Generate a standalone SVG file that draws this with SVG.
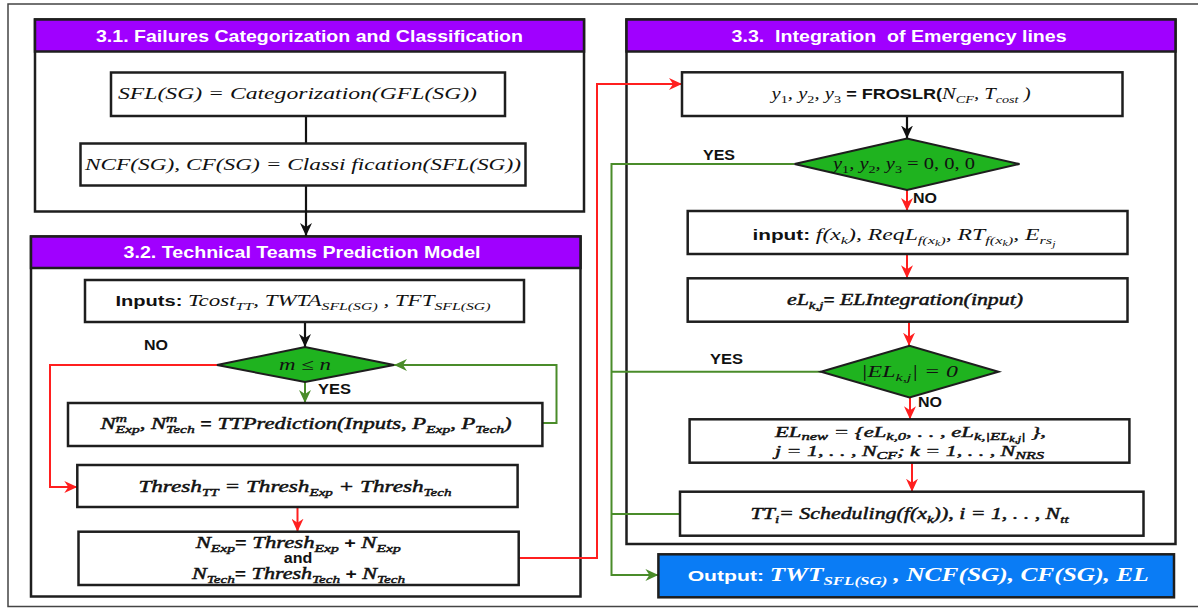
<svg xmlns="http://www.w3.org/2000/svg" width="1198" height="610" viewBox="0 0 1198 610">
<defs>
<style>
.sec{fill:#fff;stroke:#1e1e1e;stroke-width:2.5}
.hdr{fill:#a000ff;stroke:#1e1e1e;stroke-width:2.5}
.ht{font-family:"Liberation Sans",Arial,sans-serif;font-weight:bold;font-size:16.5px;fill:#fff}
.box{fill:#fff;stroke:#1e1e1e;stroke-width:2.5}
.dia{fill:#1fb31f;stroke:#1e1e1e;stroke-width:2}
.out{fill:#0a7cf5;stroke:#1e1e1e;stroke-width:2.5}
.m{font-family:"Liberation Serif","Times New Roman",serif;font-style:italic;font-size:16px;fill:#111}
.mb{stroke:#111;stroke-width:0.45}
.ob{font-weight:bold}
.r{font-style:normal}
.s{font-family:"Liberation Sans",Arial,sans-serif;font-style:normal;font-weight:bold;font-size:14px;stroke:none}
.lbl{font-family:"Liberation Sans",Arial,sans-serif;font-weight:bold;font-size:14px;fill:#111}
.sb{font-size:11px}
.ss{font-size:8px}
.ck{fill:none;stroke:#111;stroke-width:2.2}
.cr{fill:none;stroke:#ff1f1f;stroke-width:2}
.cg{fill:none;stroke:#4a8c2a;stroke-width:2}
</style>
<marker id="ak" markerUnits="userSpaceOnUse" markerWidth="14" markerHeight="12" refX="13" refY="6" orient="auto"><path d="M0,0 L13,6 L0,12 L4,6 z" fill="#111"/></marker>
<marker id="ar" markerUnits="userSpaceOnUse" markerWidth="14" markerHeight="12" refX="13" refY="6" orient="auto"><path d="M0,0 L13,6 L0,12 L4,6 z" fill="#ff1f1f"/></marker>
<marker id="ag" markerUnits="userSpaceOnUse" markerWidth="14" markerHeight="12" refX="13" refY="6" orient="auto"><path d="M0,0 L13,6 L0,12 L4,6 z" fill="#4a8c2a"/></marker>
</defs>
<rect x="0" y="0" width="1198" height="610" fill="#fff"/>
<rect x="8" y="4" width="1200" height="602.5" fill="none" stroke="#444" stroke-width="1.5"/>

<g id="sec31">
<rect class="sec" x="35" y="19.5" width="549" height="192"/>
<rect class="hdr" x="35" y="19.5" width="549" height="32"/>
<text class="ht" x="96" y="41.5" textLength="427" lengthAdjust="spacingAndGlyphs">3.1. Failures Categorization and Classification</text>
</g>
<g id="sec32">
<rect class="sec" x="31" y="236.5" width="549.5" height="360"/>
<rect class="hdr" x="31" y="236.5" width="549.5" height="31.5"/>
<text class="ht" x="123.6" y="258" textLength="357" lengthAdjust="spacingAndGlyphs">3.2. Technical Teams Prediction Model</text>
</g>
<g id="sec33">
<rect class="sec" x="626.5" y="19.5" width="549" height="524.5"/>
<rect class="hdr" x="626.5" y="19.5" width="549" height="32"/>
<text class="ht" x="731.6" y="41.5" textLength="335" lengthAdjust="spacingAndGlyphs" xml:space="preserve">3.3.  Integration  of Emergency lines</text>
</g>

<g id="connectors">
<path class="ck" d="M306,116 V143"/>
<path class="ck" d="M306,186 V236" marker-end="url(#ak)"/>
<path class="ck" d="M305,322 V347" marker-end="url(#ak)"/>
<path class="ck" d="M907,116 V138.5" marker-end="url(#ak)"/>
<path class="cr" d="M217,365 H50 V487 H77.3" marker-end="url(#ar)"/>
<path class="cr" d="M297.5,507 V531.7" marker-end="url(#ar)"/>
<path class="cr" d="M519,558 H597 V84 H682" marker-end="url(#ar)"/>
<path class="cr" d="M907,190 V211" marker-end="url(#ar)"/>
<path class="cr" d="M907,254 V278.3" marker-end="url(#ar)"/>
<path class="cr" d="M909,322 V345.7" marker-end="url(#ar)"/>
<path class="cr" d="M910,397.5 V419.3" marker-end="url(#ar)"/>
<path class="cr" d="M912,463 V491.7" marker-end="url(#ar)"/>
<path class="cg" d="M305,382 V403" marker-end="url(#ag)"/>
<path class="cg" d="M542.4,423 H556.5 V365 H394" marker-end="url(#ag)"/>
<path class="cg" d="M794.5,164 H611.5 V575 H658.4" marker-end="url(#ag)"/>
<path class="cg" d="M821,371.7 H611.5"/>
<path class="cg" d="M680,514 H611.5"/>
</g>

<g id="labels">
<text class="lbl" x="144" y="350" textLength="24" lengthAdjust="spacingAndGlyphs">NO</text>
<text class="lbl" x="318" y="394" textLength="33" lengthAdjust="spacingAndGlyphs">YES</text>
<text class="lbl" x="703" y="160" textLength="32" lengthAdjust="spacingAndGlyphs">YES</text>
<text class="lbl" x="913" y="203" textLength="24" lengthAdjust="spacingAndGlyphs">NO</text>
<text class="lbl" x="710" y="364" textLength="33" lengthAdjust="spacingAndGlyphs">YES</text>
<text class="lbl" x="918" y="407" textLength="24" lengthAdjust="spacingAndGlyphs">NO</text>
</g>

<g id="n-sfl">
<rect class="box" x="111" y="72.5" width="394" height="43.5"/>
<text class="m" x="118" y="99" textLength="359" lengthAdjust="spacingAndGlyphs">SFL(SG) = Categorization(GFL(SG))</text>
</g>
<g id="n-ncf">
<rect class="box" x="80.5" y="143.5" width="445" height="42"/>
<text class="m" x="85" y="170" textLength="436" lengthAdjust="spacingAndGlyphs">NCF(SG), CF(SG) = Classi<tspan dx="4">fication(SFL(SG))</tspan></text>
</g>
<g id="n-inputs">
<rect class="box" x="85" y="280" width="439" height="42"/>
<text class="m" x="115.5" y="306" textLength="375" lengthAdjust="spacingAndGlyphs"><tspan class="s">Inputs: </tspan>Tcost<tspan class="sb" dy="4">TT</tspan><tspan dy="-4">, TWTA</tspan><tspan class="sb" dy="4">SFL(SG)</tspan><tspan dy="-4"> , TFT</tspan><tspan class="sb" dy="4">SFL(SG)</tspan></text>
</g>
<g id="n-dec1">
<polygon class="dia" points="217,365 305,347 394,365 305,382"/>
<text class="m" x="279" y="370" textLength="52" lengthAdjust="spacingAndGlyphs">m ≤ n</text>
</g>
<g id="n-ttpred">
<rect class="box" x="68" y="403" width="474.4" height="43"/>
<text class="m mb" x="100.6" y="429" textLength="411" lengthAdjust="spacingAndGlyphs">N<tspan class="sb" dy="-7">m</tspan><tspan class="sb" dx="-8" dy="11">Exp</tspan><tspan dy="-4">, N</tspan><tspan class="sb" dy="-7">m</tspan><tspan class="sb" dx="-8" dy="11">Tech</tspan><tspan dy="-4"> </tspan><tspan class="s">=</tspan> TTPrediction(Inputs, P<tspan class="sb" dy="4">Exp</tspan><tspan dy="-4">, P</tspan><tspan class="sb" dy="4">Tech</tspan><tspan dy="-4">)</tspan></text>
</g>
<g id="n-thresh">
<rect class="box" x="77.3" y="465" width="440.3" height="42"/>
<text class="m mb" x="138.4" y="492" textLength="313" lengthAdjust="spacingAndGlyphs" style="font-size:17px">Thresh<tspan class="sb" dy="4">TT</tspan><tspan dy="-4"> = Thresh</tspan><tspan class="sb" dy="4">Exp</tspan><tspan dy="-4"> + Thresh</tspan><tspan class="sb" dy="4">Tech</tspan></text>
</g>
<g id="n-update">
<rect class="box" x="78.5" y="531.7" width="440.2" height="53.3"/>
<text class="m mb" x="195.7" y="548" textLength="205" lengthAdjust="spacingAndGlyphs">N<tspan class="sb" dy="4">Exp</tspan><tspan class="s" dy="-4">=</tspan> Thresh<tspan class="sb" dy="4">Exp</tspan><tspan class="s" dy="-4"> + </tspan>N<tspan class="sb" dy="4">Exp</tspan></text>
<text class="lbl" x="283.8" y="563" textLength="28.5" lengthAdjust="spacingAndGlyphs">and</text>
<text class="m mb" x="192" y="579" textLength="213" lengthAdjust="spacingAndGlyphs">N<tspan class="sb" dy="4">Tech</tspan><tspan class="s" dy="-4">=</tspan> Thresh<tspan class="sb" dy="4">Tech</tspan><tspan class="s" dy="-4"> + </tspan>N<tspan class="sb" dy="4">Tech</tspan></text>
</g>
<g id="n-froslr">
<rect class="box" x="682" y="72.3" width="440.5" height="43.7"/>
<text class="m" x="771.6" y="99" textLength="259" lengthAdjust="spacingAndGlyphs">y<tspan class="sb r" dy="4">1</tspan><tspan dy="-4">, y</tspan><tspan class="sb r" dy="4">2</tspan><tspan dy="-4">, y</tspan><tspan class="sb r" dy="4">3</tspan><tspan dy="-4"> </tspan><tspan class="s">= FROSLR(</tspan>N<tspan class="sb" dy="4">CF</tspan><tspan dy="-4">, T</tspan><tspan class="sb" dy="4">cost</tspan><tspan dy="-4"> )</tspan></text>
</g>
<g id="n-dec2">
<polygon class="dia" points="794.5,164 907,138.5 1019.5,164 907,190"/>
<text class="m" x="833" y="169" textLength="142" lengthAdjust="spacingAndGlyphs">y<tspan class="sb r" dy="4">1</tspan><tspan dy="-4">, y</tspan><tspan class="sb r" dy="4">2</tspan><tspan dy="-4">, y</tspan><tspan class="sb r" dy="4">3</tspan><tspan class="r" dy="-4"> = 0, 0, 0</tspan></text>
</g>
<g id="n-input">
<rect class="box" x="687.7" y="211" width="439.8" height="43"/>
<text class="m" x="752.5" y="240" textLength="303" lengthAdjust="spacingAndGlyphs"><tspan class="s">input: </tspan>f(x<tspan class="sb" dy="4">k</tspan><tspan dy="-4">), ReqL</tspan><tspan class="sb" dy="4">f(x</tspan><tspan class="ss" dy="2">k</tspan><tspan class="sb" dy="-2">)</tspan><tspan dy="-4">, RT</tspan><tspan class="sb" dy="4">f(x</tspan><tspan class="ss" dy="2">k</tspan><tspan class="sb" dy="-2">)</tspan><tspan dy="-4">, E</tspan><tspan class="sb" dy="4">rs</tspan><tspan class="ss" dy="3">j</tspan></text>
</g>
<g id="n-elint">
<rect class="box" x="687.7" y="278.3" width="439.8" height="43.4"/>
<text class="m mb" x="787" y="305" textLength="236" lengthAdjust="spacingAndGlyphs">eL<tspan class="sb" dy="4">k,j</tspan><tspan class="s" dy="-4">=</tspan> ELIntegration(input)</text>
</g>
<g id="n-dec3">
<polygon class="dia" points="821,371.7 909.5,345.7 998.5,371.7 909.5,397.5"/>
<text class="m" x="861" y="377" textLength="97" lengthAdjust="spacingAndGlyphs">|EL<tspan class="sb" dy="4">k,j</tspan><tspan dy="-4">| = 0</tspan></text>
</g>
<g id="n-elnew">
<rect class="box" x="689.6" y="419.3" width="439.8" height="43.4"/>
<text class="m mb" x="775" y="437" textLength="271" lengthAdjust="spacingAndGlyphs" style="font-size:15px">EL<tspan class="sb" dy="3">new</tspan><tspan dy="-3"> = {eL</tspan><tspan class="sb" dy="3">k,0</tspan><tspan dy="-3">, . . , eL</tspan><tspan class="sb" dy="3">k,|EL</tspan><tspan class="ss" dy="2">k,j</tspan><tspan class="sb" dy="-2">|</tspan><tspan dy="-3"> },</tspan></text>
<text class="m mb" x="775" y="456" textLength="269" lengthAdjust="spacingAndGlyphs" style="font-size:15px">j = 1, . . , N<tspan class="sb" dy="3">CF</tspan><tspan dy="-3">; k = 1, . . , N</tspan><tspan class="sb" dy="3">NRS</tspan></text>
</g>
<g id="n-sched">
<rect class="box" x="680" y="491.7" width="463.5" height="44"/>
<text class="m mb" x="750.6" y="519" textLength="318" lengthAdjust="spacingAndGlyphs">TT<tspan class="sb" dy="4">i</tspan><tspan dy="-4">= Scheduling(f(x</tspan><tspan class="sb" dy="4">k</tspan><tspan dy="-4">)), i = 1, . . , N</tspan><tspan class="sb" dy="4">tt</tspan></text>
</g>
<g id="n-output">
<rect class="out" x="658.4" y="554.3" width="515.6" height="43"/>
<text class="m ob" x="687.7" y="581" textLength="461" lengthAdjust="spacingAndGlyphs" style="font-size:18px;fill:#fff"><tspan class="s" style="font-size:15px">Output: </tspan>TWT<tspan class="sb" style="font-size:12px" dy="4">SFL(SG)</tspan><tspan dy="-4"> , NCF(SG), CF(SG), EL</tspan></text>
</g>
</svg>
